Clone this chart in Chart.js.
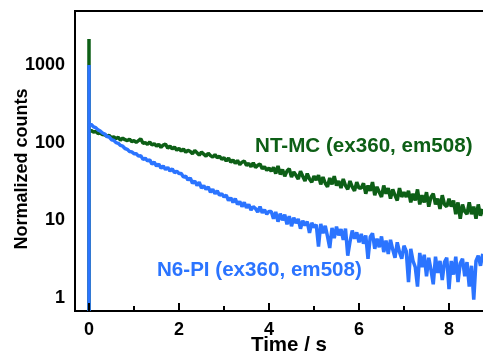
<!DOCTYPE html>
<html>
<head>
<meta charset="utf-8">
<script src="https://cdn.jsdelivr.net/npm/chart.js@4/dist/chart.umd.min.js"></script>
<style>
  html, body { margin: 0; padding: 0; overflow: hidden; background: #fff; }
</style>
</head>
<body>
<canvas id="chart1" width="520" height="372"></canvas>
<script>
// decay traces, one value every timeStep seconds starting at timeStep
const timeStep = 0.05;
const greenPeak = 2160;
const bluePeak = 1000;
const greenStart = 148;
const blueStart = 178;
const belowAxis = 0.5;

const greenCounts = [
  143, 137, 139, 131, 133, 127, 126, 121, 124, 116, 119, 113, 117, 108, 114, 109, 106, 111, 103, 106,
  101, 106, 112, 98, 100, 95, 102, 93, 97, 90, 95, 87, 93, 96, 85, 90, 83, 88, 80, 84,
  78, 83, 75, 80, 77, 72, 79, 74, 69, 76, 71, 67, 73, 68, 65, 70, 64, 67, 61, 64,
  58, 63, 56, 60, 54, 59, 52, 56, 58, 51, 54, 49, 55, 48, 51, 53, 46, 49, 44, 47,
  43, 48, 40, 50, 39, 45, 37, 43, 46, 36, 42, 38, 34, 43, 37, 32, 40, 34, 31, 37,
  33, 38, 29, 36, 30, 27, 35, 29, 37, 28, 32, 26, 34, 28, 25, 32, 27, 24, 31, 26,
  26, 30, 22, 28, 24, 31, 21, 27, 23, 20, 28, 22, 26, 19, 25, 21, 18, 26, 20, 23,
  20, 24, 17, 22, 18, 25, 16, 21, 17, 23, 15, 20, 22, 16, 19, 14, 21, 16, 15, 19,
  15, 18, 12, 17, 10.5, 16, 13, 12, 17, 12, 15, 10.5, 16, 11.5, 14
];

const blueCounts = [
  171, 160, 156, 146, 141, 133, 129, 120, 118, 109, 107, 100, 98, 92, 90, 84, 82, 77, 76, 72,
  72, 67, 68, 61, 63, 58, 60, 53, 56, 50, 53, 47, 50, 45, 48, 43, 46, 41, 43, 40,
  40, 36, 37, 33, 35, 30, 32, 28, 31, 26, 28, 25, 27, 23, 25, 22, 24, 21, 22, 20,
  21, 18, 19.5, 17, 19, 16, 17.5, 15, 17, 14.5, 16, 13.5, 15, 14.2, 12.8, 15, 12.5, 13.6, 12, 13,
  13, 10.5, 12.8, 9.6, 12.2, 10, 11.8, 8.9, 11.3, 8.4, 10.8, 9.2, 10.4, 7.8, 9.9, 8.6, 9.6, 6.9, 9.3, 8.1,
  8.8, 4.6, 9.0, 6.8, 8.5, 6.2, 4.4, 8.0, 5.9, 8.3, 6.4, 7.7, 5.6, 7.8, 3.5, 5.3, 7.4, 5.8, 7.0, 5.2,
  6.7, 5.0, 6.4, 3.2, 6.1, 6.8, 4.3, 5.8, 4.5, 6.2, 3.9, 5.5, 3.7, 5.6, 4.2, 3.3, 5.2, 3.9, 3.2, 4.7,
  4.0, 1.6, 4.3, 3.0, 2.5, 1.4, 3.8, 2.5, 3.6, 1.9, 3.3, 2.3, 1.5, 3.4, 2.1, 3.0, 1.7, 2.9, 3.3, 1.3,
  3.0, 2.0, 3.4, 1.6, 2.8, 3.2, 1.9, 2.9, 1.4, 2.6, 0.95, 3.0, 3.5, 2.6, 3.7
];

const xMajorTicks = [0, 2, 4, 6, 8];
const xMinorTicks = [1, 3, 5, 7];
const yTickValues = [1, 10, 100, 1000];

const greenLabel = 'NT-MC (ex360, em508)';
const blueLabel = 'N6-PI (ex360, em508)';
const greenLabelAt = [3.69, 90];   // time, counts (left edge of text)
const blueLabelAt = [1.51, 2.3];

const greenColor = '#0d5f16';
const blueColor = '#2b74ff';
const fontFamily = '"Liberation Sans", Arial, Helvetica, sans-serif';

function toPoints(counts, peak, start) {
  const pts = [{ x: 0, y: belowAxis }, { x: 0, y: peak }, { x: 0, y: start }];
  counts.forEach((c, i) => pts.push({ x: (i + 1) * timeStep, y: c }));
  return pts;
}

// ticks that point into the plot, labels and the top frame line
const overlay = {
  id: 'overlay',
  afterDatasetsDraw(chart) {
    const { ctx, chartArea, scales: { x, y } } = chart;
    ctx.save();
    ctx.strokeStyle = '#000';
    ctx.lineWidth = 2;
    ctx.beginPath();
    ctx.moveTo(chartArea.left - 1, chartArea.top);
    ctx.lineTo(chartArea.right, chartArea.top);
    ctx.stroke();
    const base = chartArea.bottom;
    xMajorTicks.forEach(v => {
      const px = Math.round(x.getPixelForValue(v));
      ctx.beginPath(); ctx.moveTo(px, base); ctx.lineTo(px, base - 8); ctx.stroke();
    });
    xMinorTicks.forEach(v => {
      const px = Math.round(x.getPixelForValue(v));
      ctx.beginPath(); ctx.moveTo(px, base); ctx.lineTo(px, base - 5); ctx.stroke();
    });

    ctx.font = 'bold 20.6px ' + fontFamily;
    ctx.textBaseline = 'middle';
    ctx.textAlign = 'left';
    ctx.fillStyle = greenColor;
    ctx.fillText(greenLabel, x.getPixelForValue(greenLabelAt[0]), y.getPixelForValue(greenLabelAt[1]));
    ctx.fillStyle = blueColor;
    ctx.fillText(blueLabel, x.getPixelForValue(blueLabelAt[0]), y.getPixelForValue(blueLabelAt[1]));

    // y axis title
    ctx.font = 'bold 18px ' + fontFamily;
    ctx.fillStyle = '#000';
    ctx.translate(22, (chartArea.top + chartArea.bottom) / 2 + 8);
    ctx.rotate(-Math.PI / 2);
    ctx.textAlign = 'center';
    ctx.fillText('Normalized counts', 0, 0);
    ctx.restore();
  }
};

document.addEventListener('DOMContentLoaded', function () {
  const canvas = document.getElementById('chart1');
  new Chart(canvas.getContext('2d'), {
    type: 'line',
    data: {
      datasets: [
        { data: toPoints(blueCounts, bluePeak, blueStart), borderColor: blueColor, borderWidth: 3.5, clip: 0 },
        { data: toPoints(greenCounts, greenPeak, greenStart), borderColor: greenColor, borderWidth: 3.5, clip: 0 }
      ]
    },
    options: {
      responsive: false,
      animation: false,
      parsing: false,
      layout: { padding: { top: 11, right: 17, left: 0, bottom: 0 } },
      plugins: { legend: { display: false }, tooltip: { enabled: false } },
      elements: { point: { radius: 0 }, line: { tension: 0, borderJoinStyle: 'bevel' } },
      scales: {
        x: {
          type: 'linear',
          min: -0.311,
          max: 9.2,
          grid: { display: false, drawTicks: false },
          border: { display: true, color: '#000', width: 2 },
          afterFit: s => { s.height = 61; s.paddingLeft = 0; s.paddingRight = 0; },
          ticks: {
            stepSize: 1,
            includeBounds: false,
            autoSkip: false,
            maxRotation: 0,
            padding: 8,
            color: '#000',
            font: { family: fontFamily, size: 18, weight: 'bold' },
            callback: v => xMajorTicks.includes(v) ? String(v) : ''
          },
          title: {
            display: true,
            text: 'Time / s',
            color: '#000',
            padding: { top: 0, bottom: 14 },
            font: { family: fontFamily, size: 20.5, weight: 'bold' }
          }
        },
        y: {
          type: 'logarithmic',
          min: 0.68,
          max: 4950,
          grid: { display: false, drawTicks: false },
          border: { display: true, color: '#000', width: 2 },
          afterFit: s => { s.width = 75; s.paddingTop = 0; s.paddingBottom = 0; },
          afterBuildTicks: s => { s.ticks = yTickValues.map(v => ({ value: v })); },
          ticks: {
            padding: 10,
            color: '#000',
            font: { family: fontFamily, size: 18, weight: 'bold' },
            callback: v => String(v)
          }
        }
      }
    },
    plugins: [overlay]
  });
});
</script>
</body>
</html>
